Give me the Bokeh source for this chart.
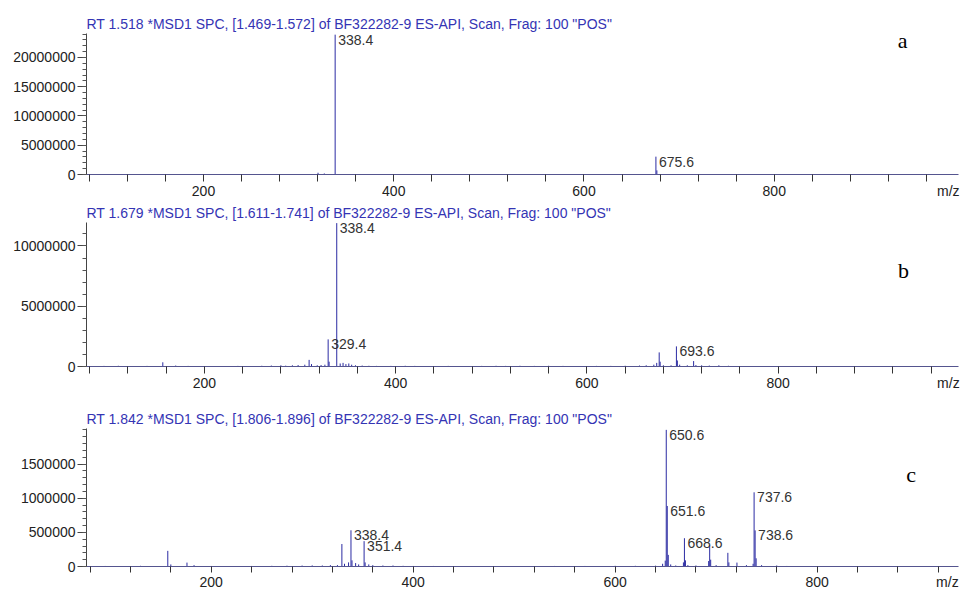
from bokeh.plotting import figure
from bokeh.layouts import column
from bokeh.models import (FixedTicker, PrintfTickFormatter, Label, Title,
                          ColumnDataSource, Range1d, Spacer)
from bokeh.embed import file_html
from bokeh.resources import INLINE
from bokeh.core.properties import value

# ---------------- data ----------------
a_title = 'RT 1.518 *MSD1 SPC, [1.469-1.572] of BF322282-9 ES-API, Scan, Frag: 100 "POS"'
a_mz = [320.4, 327.0, 338.4, 675.6, 676.6]
a_int = [300000, 180000, 23900000, 3050000, 700000]
a_labels = [338.4, 675.6]

b_title = 'RT 1.679 *MSD1 SPC, [1.611-1.741] of BF322282-9 ES-API, Scan, Frag: 100 "POS"'
b_mz = [95, 110, 125, 140, 156.5, 170, 183, 215, 235, 260, 270, 280, 285, 292, 298,
        305, 309.5, 312, 318, 322, 326, 329.4, 330.4, 338.4, 342, 345, 348, 351, 354,
        358, 365, 372, 380, 395, 410, 420, 440, 455, 470, 490, 505, 515, 530, 545,
        560, 575, 590, 610, 625, 640, 655, 662, 670, 673, 675.6, 676.6, 680, 688,
        693.6, 694.6, 697, 705, 711.6, 714, 720, 728, 738, 748, 760]
b_int = [50000, 60000, 40000, 50000, 350000, 80000, 50000, 40000, 50000, 60000,
         80000, 100000, 70000, 100000, 120000, 150000, 550000, 200000, 100000,
         120000, 150000, 2250000, 400000, 11900000, 250000, 300000, 200000, 250000,
         150000, 100000, 80000, 60000, 50000, 50000, 60000, 50000, 40000, 50000,
         40000, 50000, 60000, 50000, 60000, 50000, 60000, 50000, 40000, 50000,
         50000, 60000, 80000, 100000, 150000, 300000, 1170000, 400000, 100000,
         100000, 1670000, 500000, 150000, 100000, 450000, 120000, 100000, 80000,
         100000, 60000, 40000]
b_labels = [329.4, 338.4, 693.6]

c_title = 'RT 1.842 *MSD1 SPC, [1.806-1.896] of BF322282-9 ES-API, Scan, Frag: 100 "POS"'
c_mz = [95, 110, 130, 157, 160, 176, 183, 200, 220, 240, 260, 275, 290, 300, 310,
        318, 325, 329.4, 332, 336, 338.4, 339.4, 343, 346, 351.4, 352.4, 356, 360,
        370, 380, 390, 400, 420, 450, 480, 510, 540, 570, 600, 620, 640, 647,
        649.6, 650.6, 651.6, 652.6, 655, 660, 667.6, 668.6, 669.6, 672, 680,
        692.6, 693.6, 694.6, 700, 711.6, 712.6, 720.6, 730, 736.6, 737.6, 738.6,
        739.6, 745, 760, 770]
c_int = [8000, 6000, 10000, 229000, 30000, 57000, 20000, 8000, 6000, 8000, 10000,
         12000, 14000, 16000, 15000, 20000, 20000, 329000, 40000, 60000, 530000,
         90000, 50000, 30000, 371000, 60000, 30000, 20000, 15000, 15000, 10000,
         8000, 8000, 6000, 6000, 6000, 8000, 8000, 10000, 10000, 12000, 40000,
         86000, 2000000, 886000, 170000, 30000, 15000, 60000, 414000, 90000,
         20000, 15000, 80000, 314000, 100000, 20000, 200000, 60000, 57000, 20000,
         40000, 1086000, 529000, 120000, 20000, 15000, 8000]
c_labels = [338.4, 351.4, 650.6, 651.6, 668.6, 737.6, 738.6]

x_labels = [200, 400, 600, 800]
x_ticks = list(range(40, 1000, 40))

SPEC = "#2b2ba3"
TITLE_C = "#3434b4"
FONT = "Liberation Sans"


def panel(title, mz, inten, labels, x0, x1, y_end, y_major, y_minor,
          letter, letter_xy, mz_x, left, bottom, height, frame_w,
          title_gap=3, total_w=968, tick_out=7):
    p = figure(width=total_w, height=height, output_backend="svg",
               toolbar_location=None, x_range=Range1d(x0, x1),
               y_range=Range1d(0, y_end), min_border_left=left,
               min_border_right=total_w - left - frame_w, min_border_top=0,
               min_border_bottom=bottom)
    p.outline_line_color = None
    p.grid.visible = False
    p.background_fill_color = "white"
    p.border_fill_color = "white"

    p.add_layout(Title(text=title, align="left", text_font_size="14px",
                       text_font=FONT, text_font_style="normal",
                       text_color=TITLE_C, standoff=title_gap), "above")

    src = ColumnDataSource(dict(mz=mz, inten=inten, zero=[0] * len(mz)))
    p.segment(x0="mz", y0="zero", x1="mz", y1="inten", source=src,
              line_color=SPEC, line_width=1)

    lx = [m for m in labels]
    ly = [inten[mz.index(m)] for m in labels]
    lt = ["%.1f" % m for m in labels]
    p.text(x=lx, y=ly, text=lt, x_offset=3, y_offset=0, text_baseline="top",
           text_align="left", text_font=value(FONT), text_font_size="14px",
           text_color="#333333")

    xa = p.xaxis[0]
    xa.ticker = FixedTicker(ticks=x_labels + [mz_x], minor_ticks=x_ticks)
    xa.major_label_overrides = {mz_x: "m/z"}
    xa.major_tick_in = 0
    xa.major_tick_out = 0
    xa.minor_tick_in = 0
    xa.minor_tick_out = tick_out
    xa.major_label_standoff = 1
    xa.axis_line_color = "#55558f"
    xa.minor_tick_line_color = "#333333"
    xa.major_label_text_font = FONT
    xa.major_label_text_font_size = "14px"
    xa.major_label_text_color = "#222222"

    ya = p.yaxis[0]
    ya.ticker = FixedTicker(ticks=y_major, minor_ticks=y_minor)
    ya.formatter = PrintfTickFormatter(format="%d")
    ya.major_tick_in = 0
    ya.minor_tick_in = 0
    ya.major_tick_out = 9
    ya.minor_tick_out = 4
    ya.major_label_standoff = 2
    ya.axis_line_color = "#444444"
    ya.major_tick_line_color = "#444444"
    ya.minor_tick_line_color = "#555555"
    ya.major_label_text_font = FONT
    ya.major_label_text_font_size = "14px"
    ya.major_label_text_color = "#222222"

    p.add_layout(Label(x=letter_xy[0], y=letter_xy[1], text=letter,
                       text_font="Liberation Serif", text_font_size="22px",
                       text_align="center", text_baseline="middle",
                       text_color="#000000"))
    return p


pa = panel(a_title, a_mz, a_int, a_labels, 77, 993.7, 24100000,
           [0, 5000000, 10000000, 15000000, 20000000],
           list(range(0, 24000001, 1000000)),
           "a", (935, 22900000), 983, left=86, bottom=26,
           height=189, frame_w=880)

pb = panel(b_title, b_mz, b_int, b_labels, 76.7, 988.6, 11950000,
           [0, 5000000, 10000000],
           list(range(0, 12000001, 1000000)),
           "b", (931, 8000000), 978, left=86, bottom=41,
           height=206, frame_w=880)

pc = panel(c_title, c_mz, c_int, c_labels, 76.5, 940, 2020000,
           [0, 500000, 1000000, 1500000],
           list(range(0, 2000001, 100000)),
           "c", (893, 1347000), 929, left=77, bottom=24,
           height=185, frame_w=881, title_gap=3, tick_out=6)

layout = column(Spacer(height=12, width=968), pa, pb, pc, spacing=0)
open("out.html", "w").write(file_html(layout, INLINE))
